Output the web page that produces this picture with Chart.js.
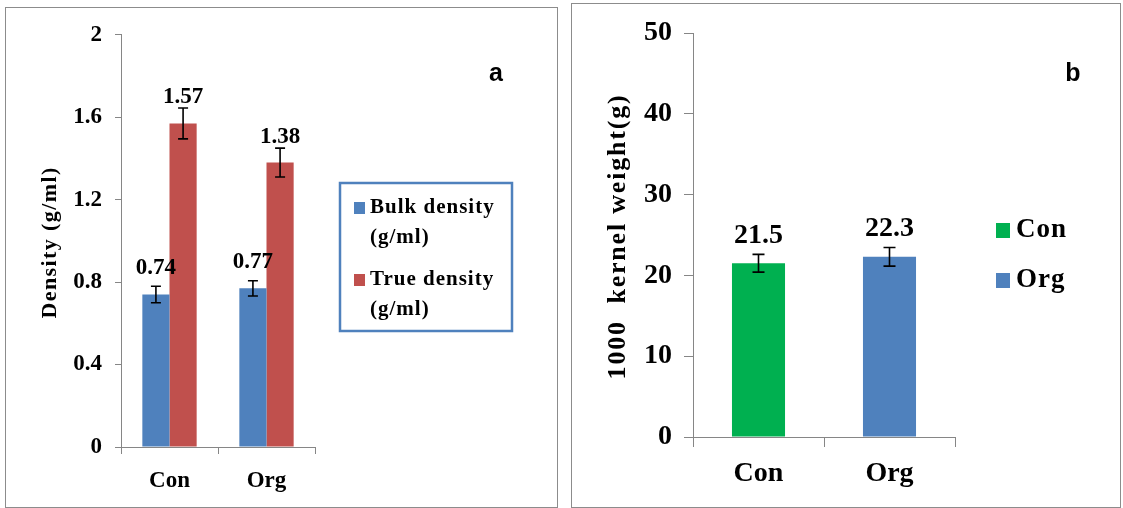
<!DOCTYPE html>
<html>
<head>
<meta charset="utf-8">
<script src="https://cdn.jsdelivr.net/npm/chart.js@4.4.1/dist/chart.umd.min.js"></script>
<style>
  html, body { margin: 0; padding: 0; background: #fff; }
  body { width: 1123px; height: 508px; position: relative; overflow: hidden; }
  .panel { position: absolute; border: 1px solid #8c8c8c; box-sizing: border-box; background: #fff; }
  #panelA { left: 5px; top: 7px; width: 553px; height: 501px; }
  #panelB { left: 571px; top: 3px; width: 550px; height: 505px; }
  canvas { display: block; }
</style>
</head>
<body>
<div class="panel" id="panelA"><canvas id="densityChart" width="551" height="499"></canvas></div>
<div class="panel" id="panelB"><canvas id="kernelChart" width="548" height="503"></canvas></div>
<script>
// ---- data ----
const densityCategories = ['Con', 'Org'];
const bulkDensity = [0.74, 0.77];
const bulkDensityErr = [0.04, 0.037];
const trueDensity = [1.57, 1.38];
const trueDensityErr = [0.075, 0.07];
const densityTicks = [0, 0.4, 0.8, 1.2, 1.6, 2];
const densityAxisTitle = 'Density (g/ml)';

const kernelCategories = ['Con', 'Org'];
const kernelWeight = [21.5, 22.3];
const kernelWeightErr = [1.1, 1.15];
const kernelTicks = [0, 10, 20, 30, 40, 50];
const kernelAxisTitle = '1000  kernel weight(g)';

// ---- styles ----
const SERIF = '"Liberation Serif", "Times New Roman", serif';
const SANS = '"Liberation Sans", Arial, sans-serif';
const BLUE = '#4f81bd', RED = '#c0504d', GREEN = '#00b050', AXIS = '#868686';

// error bars: value +/- dataset.errors[i], drawn at each bar centre
const errorBars = {
  id: 'errorBars',
  afterDatasetsDraw(chart, args, opts) {
    const ctx = chart.ctx, y = chart.scales.y;
    chart.data.datasets.forEach((ds, i) => {
      chart.getDatasetMeta(i).data.forEach((bar, j) => {
        const v = ds.data[j], e = ds.errors[j];
        const top = y.getPixelForValue(v + e), bot = y.getPixelForValue(v - e);
        const w = opts.cap;
        ctx.save();
        ctx.strokeStyle = '#000';
        ctx.lineWidth = 1.6;
        ctx.beginPath();
        ctx.moveTo(bar.x, top); ctx.lineTo(bar.x, bot);
        ctx.moveTo(bar.x - w, top); ctx.lineTo(bar.x + w, top);
        ctx.moveTo(bar.x - w, bot); ctx.lineTo(bar.x + w, bot);
        ctx.stroke();
        ctx.restore();
      });
    });
  }
};

// value labels above each bar
const valueLabels = {
  id: 'valueLabels',
  afterDatasetsDraw(chart, args, opts) {
    const ctx = chart.ctx;
    chart.data.datasets.forEach((ds, i) => {
      chart.getDatasetMeta(i).data.forEach((bar, j) => {
        ctx.save();
        ctx.font = opts.font;
        ctx.fillStyle = '#000';
        ctx.textAlign = 'center';
        ctx.textBaseline = 'middle';
        ctx.fillText(ds.data[j].toFixed(opts.digits), bar.x, bar.y - opts.offset);
        ctx.restore();
      });
    });
  }
};

// rotated y-axis title, centred on the plot area
const axisTitle = {
  id: 'axisTitle',
  afterDraw(chart, args, opts) {
    const ctx = chart.ctx, area = chart.chartArea;
    ctx.save();
    ctx.font = opts.font;
    ctx.letterSpacing = opts.spacing;
    ctx.fillStyle = '#000';
    ctx.translate(opts.x, (area.top + area.bottom) / 2 + opts.dy);
    ctx.rotate(-Math.PI / 2);
    ctx.textAlign = 'center';
    ctx.textBaseline = 'middle';
    ctx.fillText(opts.text, 0, 0);
    ctx.restore();
  }
};

// panel letter in the upper right corner
const panelTag = {
  id: 'panelTag',
  afterDraw(chart, args, opts) {
    const ctx = chart.ctx;
    ctx.save();
    ctx.font = opts.font;
    ctx.fillStyle = '#000';
    ctx.textAlign = 'center';
    ctx.textBaseline = 'middle';
    ctx.fillText(opts.text, opts.x, opts.y);
    ctx.restore();
  }
};

// boxed legend with two-line entries for the density chart
const boxedLegend = {
  id: 'boxedLegend',
  afterDraw(chart, args, opts) {
    const ctx = chart.ctx;
    ctx.save();
    ctx.strokeStyle = BLUE;
    ctx.lineWidth = 2.5;
    ctx.strokeRect(opts.x, opts.y, opts.w, opts.h);
    ctx.font = opts.font;
    ctx.letterSpacing = opts.spacing;
    ctx.textAlign = 'left';
    ctx.textBaseline = 'middle';
    chart.data.datasets.forEach((ds, i) => {
      const y0 = opts.firstY + i * opts.itemGap;
      ctx.fillStyle = ds.backgroundColor;
      ctx.fillRect(opts.boxX, y0 - 6, 11, 12);
      ctx.fillStyle = '#000';
      ds.legendLines.forEach((t, k) => ctx.fillText(t, opts.textX, y0 + k * opts.lineGap));
    });
    ctx.restore();
  }
};

// per-category legend for the kernel weight chart
const categoryLegend = {
  id: 'categoryLegend',
  afterDraw(chart, args, opts) {
    const ctx = chart.ctx;
    const ds = chart.data.datasets[0];
    ctx.save();
    ctx.font = opts.font;
    ctx.letterSpacing = opts.spacing;
    ctx.textAlign = 'left';
    ctx.textBaseline = 'middle';
    chart.data.labels.forEach((lab, i) => {
      const y0 = opts.firstY + i * opts.itemGap;
      ctx.fillStyle = ds.backgroundColor[i];
      ctx.fillRect(opts.boxX, y0 - 7, 14, 15);
      ctx.fillStyle = '#000';
      ctx.fillText(lab, opts.textX, y0);
    });
    ctx.restore();
  }
};

Chart.defaults.color = '#000';
Chart.defaults.animation = false;

function fixedSize(w, h) {
  return function (scale) {
    if (w !== undefined) scale.width = w;
    if (h !== undefined) scale.height = h;
  };
}

// ---- chart a: density ----
new Chart(document.getElementById('densityChart'), {
  type: 'bar',
  data: {
    labels: densityCategories,
    datasets: [
      { label: 'Bulk density (g/ml)', legendLines: ['Bulk density', '(g/ml)'],
        data: bulkDensity, errors: bulkDensityErr, backgroundColor: BLUE },
      { label: 'True density (g/ml)', legendLines: ['True density', '(g/ml)'],
        data: trueDensity, errors: trueDensityErr, backgroundColor: RED }
    ]
  },
  options: {
    responsive: false,
    events: [],
    categoryPercentage: 0.56,
    barPercentage: 1.0,
    layout: { padding: { top: 26, right: 242, left: 0, bottom: 0 } },
    plugins: {
      legend: { display: false },
      tooltip: { enabled: false },
      errorBars: { cap: 5 },
      valueLabels: { font: 'bold 23px ' + SERIF, digits: 2, offset: 26 },
      axisTitle: { text: densityAxisTitle, font: 'bold 22px ' + SERIF, spacing: '1.4px', x: 44, dy: 1.5 },
      panelTag: { text: 'a', font: 'bold 25px ' + SANS, x: 490, y: 66 },
      boxedLegend: { x: 334, y: 175, w: 172, h: 148, font: 'bold 21px ' + SERIF, spacing: '1px',
        boxX: 348, textX: 364, firstY: 200, itemGap: 72, lineGap: 30 }
    },
    scales: {
      x: {
        afterFit: fixedSize(undefined, 60),
        grid: { offset: true, drawOnChartArea: false, drawTicks: true, tickLength: 7, color: AXIS },
        border: { display: true, color: AXIS, width: 1 },
        ticks: { font: { family: SERIF, size: 23, weight: 'bold' }, padding: 13 }
      },
      y: {
        min: 0, max: 2,
        afterFit: fixedSize(115),
        afterBuildTicks(scale) { scale.ticks = densityTicks.map(v => ({ value: v })); },
        grid: { drawOnChartArea: false, drawTicks: true, tickLength: 6, color: AXIS },
        border: { display: true, color: AXIS, width: 1 },
        ticks: { font: { family: SERIF, size: 23, weight: 'bold' }, padding: 13,
          callback: v => String(+v.toFixed(1)) },
        title: { display: false }
      }
    }
  },
  plugins: [errorBars, valueLabels, axisTitle, panelTag, boxedLegend]
});

// ---- chart b: 1000 kernel weight ----
new Chart(document.getElementById('kernelChart'), {
  type: 'bar',
  data: {
    labels: kernelCategories,
    datasets: [
      { label: kernelAxisTitle, data: kernelWeight, errors: kernelWeightErr,
        backgroundColor: [GREEN, BLUE] }
    ]
  },
  options: {
    responsive: false,
    events: [],
    categoryPercentage: 0.405,
    barPercentage: 1.0,
    layout: { padding: { top: 29, right: 165, left: 0, bottom: 0 } },
    plugins: {
      legend: { display: false },
      tooltip: { enabled: false },
      errorBars: { cap: 6 },
      valueLabels: { font: 'bold 28px ' + SERIF, digits: 1, offset: 28 },
      axisTitle: { text: kernelAxisTitle, font: 'bold 26px ' + SERIF, spacing: '1.8px', x: 46, dy: 1.5 },
      panelTag: { text: 'b', font: 'bold 25px ' + SANS, x: 501, y: 70 },
      categoryLegend: { font: 'bold 27px ' + SERIF, spacing: '1px', boxX: 424, textX: 444, firstY: 226, itemGap: 50 }
    },
    scales: {
      x: {
        afterFit: fixedSize(undefined, 70),
        grid: { offset: true, drawOnChartArea: false, drawTicks: true, tickLength: 10, color: AXIS },
        border: { display: true, color: AXIS, width: 1 },
        ticks: { font: { family: SERIF, size: 28, weight: 'bold' }, padding: 10 }
      },
      y: {
        min: 0, max: 50,
        afterFit: fixedSize(121),
        afterBuildTicks(scale) { scale.ticks = kernelTicks.map(v => ({ value: v })); },
        grid: { drawOnChartArea: false, drawTicks: true, tickLength: 9, color: AXIS },
        border: { display: true, color: AXIS, width: 1 },
        ticks: { font: { family: SERIF, size: 28, weight: 'bold' }, padding: 12 },
        title: { display: false }
      }
    }
  },
  plugins: [errorBars, valueLabels, axisTitle, panelTag, categoryLegend]
});
</script>
</body>
</html>
